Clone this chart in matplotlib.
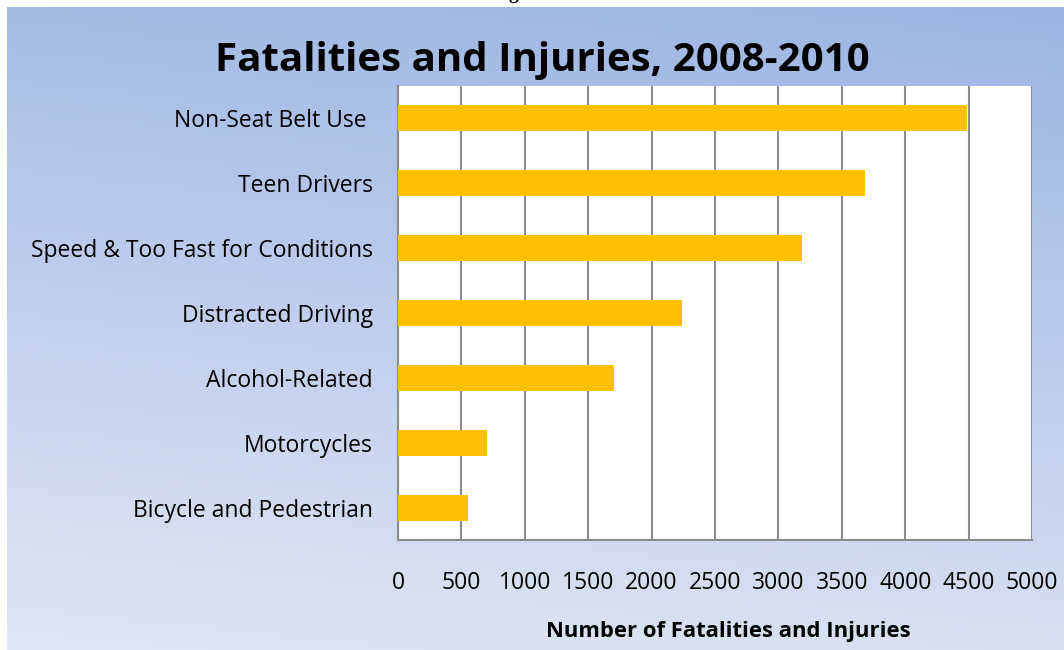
import numpy as np
import matplotlib
matplotlib.use("Agg")
import matplotlib.pyplot as plt

categories = ["Non-Seat Belt Use ", "Teen Drivers", "Speed & Too Fast for Conditions",
              "Distracted Driving", "Alcohol-Related", "Motorcycles", "Bicycle and Pedestrian"]
values = [4490, 3680, 3190, 2240, 1700, 700, 550]
xticks = [0, 500, 1000, 1500, 2000, 2500, 3000, 3500, 4000, 4500, 5000]

W, H = 1064, 650
fig = plt.figure(figsize=(W / 100, H / 100), dpi=100)
fig.patch.set_facecolor("white")

# gradient background
bg = fig.add_axes([7 / W, 0, 1 - 7 / W, (H - 7) / H])
bg.set_axis_off()
ny, nx = 200, 200
yy, xx = np.mgrid[0:1:ny * 1j, 0:1:nx * 1j]
t = np.clip(0.85 * yy + 0.15 * (1 - xx), 0, 1)  # 0 top, 1 bottom-left
top = np.array([155, 181, 227]) / 255
bot = np.array([224, 231, 245]) / 255
img = top[None, None, :] * (1 - t[..., None]) + bot[None, None, :] * t[..., None]
bg.imshow(img, aspect="auto", extent=[0, 1, 0, 1], origin="upper")
bg.set_xlim(0, 1)
bg.set_ylim(0, 1)

# cut-off caption fragment at the very top
fig.text(513 / W, 1 + 1 / H, "g", fontsize=14, family="Liberation Serif",
         fontweight="bold", ha="center", va="baseline")

font = "Open Sans"
ax = fig.add_axes([398 / W, 1 - 540 / H, (1032 - 398) / W, (540 - 86) / H])
ax.set_facecolor("white")
y = np.arange(len(categories))
ax.barh(y, values, height=0.4, color="#FFC000", zorder=3)
ax.set_ylim(len(categories) - 0.5, -0.5)
ax.set_xlim(0, 5000)
ax.set_xticks(xticks)
ax.set_xticklabels([str(v) for v in xticks], fontsize=16.5, family=font)
ax.set_yticks(y)
ax.set_yticklabels(categories, fontsize=16.5, family=font)
ax.tick_params(axis="both", length=0, colors="black")
ax.tick_params(axis="x", pad=22)
ax.tick_params(axis="y", pad=18)
ax.grid(axis="x", color="#8c8c8c", linewidth=1.5, zorder=1)
for s in ["top", "right"]:
    ax.spines[s].set_visible(False)
for s in ["left", "bottom"]:
    ax.spines[s].set_color("#8c8c8c")
    ax.spines[s].set_linewidth(1.5)
ax.set_xlabel("Number of Fatalities and Injuries", fontsize=15.8, fontweight="bold",
              family=font)
ax.xaxis.set_label_coords((728 - 398) / (1032 - 398), -(632 - 540) / (540 - 86))
ax.xaxis.label.set_va("center")

fig.text(542 / W, 1 - 60 / H, "Fatalities and Injuries, 2008-2010", fontsize=29,
         fontweight="bold", family=font, ha="center", va="center")

fig.savefig("out.png", dpi=100, facecolor=fig.get_facecolor())
